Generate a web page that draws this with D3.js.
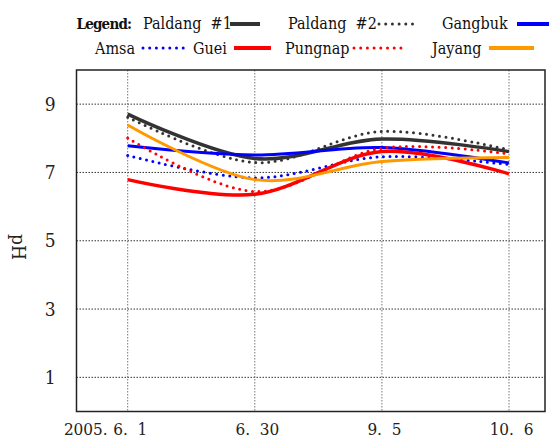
<!DOCTYPE html>
<html>
<head>
<meta charset="utf-8">
<script src="https://cdn.jsdelivr.net/npm/d3@7"></script>
<style>
  html, body { margin: 0; padding: 0; background: #fff; }
  text { white-space: pre; font-stretch: condensed; }
</style>
</head>
<body>
<svg id="chart" width="549" height="440"></svg>
<script>
// Sampling dates (2005) and pH readings per station
const year = "2005.";
const dates = ["6.  1", "6.  30", "9.  5", "10.  6"];
const yTicks = [1, 3, 5, 7, 9];

const paldang1 = [8.71, 7.41, 7.98, 7.61];
const paldang2 = [8.62, 7.29, 8.20, 7.66];
const gangbuk  = [7.78, 7.51, 7.73, 7.28];
const amsa     = [7.50, 6.84, 7.46, 7.23];
const guei     = [6.79, 6.36, 7.61, 6.96];
const pungnap  = [8.01, 6.44, 7.71, 7.54];
const jayang   = [8.39, 6.79, 7.32, 7.44];

const seriesNames = ["Paldang  #1", "Paldang  #2", "Gangbuk", "Amsa", "Guei", "Pungnap", "Jayang"];
const seriesValues = [paldang1, paldang2, gangbuk, amsa, guei, pungnap, jayang];

// Line styles for each station
const styles = [
  { color: "#333333", width: 3.5, dotted: false },
  { color: "#333333", width: 3,   dotted: true  },
  { color: "#0000ff", width: 3,   dotted: false },
  { color: "#0000ff", width: 3,   dotted: true  },
  { color: "#ff0000", width: 3.5, dotted: false },
  { color: "#ff0000", width: 3,   dotted: true  },
  { color: "#ff9900", width: 3,   dotted: false }
];

const SERIF = "'DejaVu Serif Condensed', 'DejaVu Serif', serif";

const svg = d3.select("#chart").attr("font-family", SERIF);
const frame = { left: 76.5, right: 545, top: 70, bottom: 411.5 };

const x = d3.scaleLinear().domain([0, dates.length - 1]).range([127.7, 509]);
const y = d3.scaleLinear().domain([0, 10]).range([frame.bottom, frame.top]);

// Grid lines
const grid = svg.append("g");
grid.selectAll("line.h").data(yTicks).join("line")
  .attr("x1", frame.left).attr("x2", frame.right)
  .attr("y1", d => y(d)).attr("y2", d => y(d))
  .attr("stroke", "#333").attr("stroke-width", 1).attr("stroke-dasharray", "1.5,1.5");
grid.selectAll("line.v").data(dates.map((d, i) => i)).join("line")
  .attr("x1", d => x(d)).attr("x2", d => x(d))
  .attr("y1", frame.top).attr("y2", frame.bottom)
  .attr("stroke", "#777").attr("stroke-width", 1).attr("stroke-dasharray", "1.5,1.5");

// Plot frame
svg.append("rect")
  .attr("x", frame.left).attr("y", frame.top)
  .attr("width", frame.right - frame.left).attr("height", frame.bottom - frame.top)
  .attr("fill", "none").attr("stroke", "#222").attr("stroke-width", 1.5);

// Y axis labels
const yAxis = d3.axisLeft(y).tickValues(yTicks).tickSize(0).tickPadding(21);
svg.append("g").attr("transform", `translate(${frame.left},0)`).call(yAxis)
  .attr("font-family", SERIF)
  .call(g => g.select(".domain").remove())
  .selectAll("text")
  .attr("font-size", 19).attr("fill", "#222");

// X axis labels
const xAxis = d3.axisBottom(x).tickValues(d3.range(dates.length))
  .tickFormat(i => dates[i]).tickSize(0).tickPadding(11);
const xg = svg.append("g").attr("transform", `translate(2,${frame.bottom})`).call(xAxis)
  .attr("font-family", SERIF);
xg.select(".domain").remove();
xg.selectAll("text").attr("font-size", 17).attr("fill", "#222");

// Year prefix placed before the first date label
const firstLabel = xg.selectAll("text").nodes()[0];
const fb = firstLabel.getBBox();
xg.append("text")
  .attr("x", x(0) + fb.x - 5)
  .attr("y", firstLabel.getAttribute("y"))
  .attr("dy", firstLabel.getAttribute("dy"))
  .attr("text-anchor", "end")
  .attr("font-size", 17).attr("fill", "#222")
  .text(year);

// Y axis title
svg.append("text")
  .attr("transform", "translate(19,247) rotate(90)")
  .attr("text-anchor", "middle").attr("dy", "0.35em")
  .attr("font-size", 19).attr("fill", "#222")
  .text("pH");

// Series curves
const line = d3.line()
  .x((d, i) => x(i))
  .y(d => y(d))
  .curve(d3.curveCardinal.tension(0));

svg.append("g").selectAll("path").data(seriesValues).join("path")
  .attr("d", d => line(d))
  .attr("fill", "none")
  .attr("stroke", (d, i) => styles[i].color)
  .attr("stroke-width", (d, i) => styles[i].width)
  .attr("stroke-linecap", (d, i) => styles[i].dotted ? "round" : "butt")
  .attr("stroke-dasharray", (d, i) => styles[i].dotted ? "0,6.5" : null);

// Legend
const legend = svg.append("g").attr("font-size", 16).attr("fill", "#111");
legend.append("text").attr("x", 76.5).attr("y", 29)
  .attr("font-weight", "bold").attr("font-size", 15).attr("letter-spacing", -0.8)
  .text("Legend:");

const legendLayout = [
  { tx: 143, lx1: 230, lx2: 260, row: 0 },
  { tx: 288, lx1: 379, lx2: 414, row: 0 },
  { tx: 442, lx1: 517, lx2: 560, row: 0 },
  { tx: 95,  lx1: 143, lx2: 185, row: 1 },
  { tx: 193, lx1: 234, lx2: 271, row: 1 },
  { tx: 285, lx1: 354, lx2: 404, row: 1 },
  { tx: 432, lx1: 489, lx2: 534, row: 1 }
];
const rowText = [29, 54];
const rowLine = [24, 48];

const items = legend.selectAll("g.item").data(seriesNames).join("g").attr("class", "item");
items.append("text")
  .attr("x", (d, i) => legendLayout[i].tx)
  .attr("y", (d, i) => rowText[legendLayout[i].row])
  .text(d => d);
items.append("line")
  .attr("x1", (d, i) => legendLayout[i].lx1)
  .attr("x2", (d, i) => legendLayout[i].lx2)
  .attr("y1", (d, i) => rowLine[legendLayout[i].row])
  .attr("y2", (d, i) => rowLine[legendLayout[i].row])
  .attr("stroke", (d, i) => styles[i].color)
  .attr("stroke-width", (d, i) => styles[i].dotted ? 3 : 4)
  .attr("stroke-linecap", (d, i) => styles[i].dotted ? "round" : "butt")
  .attr("stroke-dasharray", (d, i) => styles[i].dotted ? "0,6.7" : null);
</script>
</body>
</html>
